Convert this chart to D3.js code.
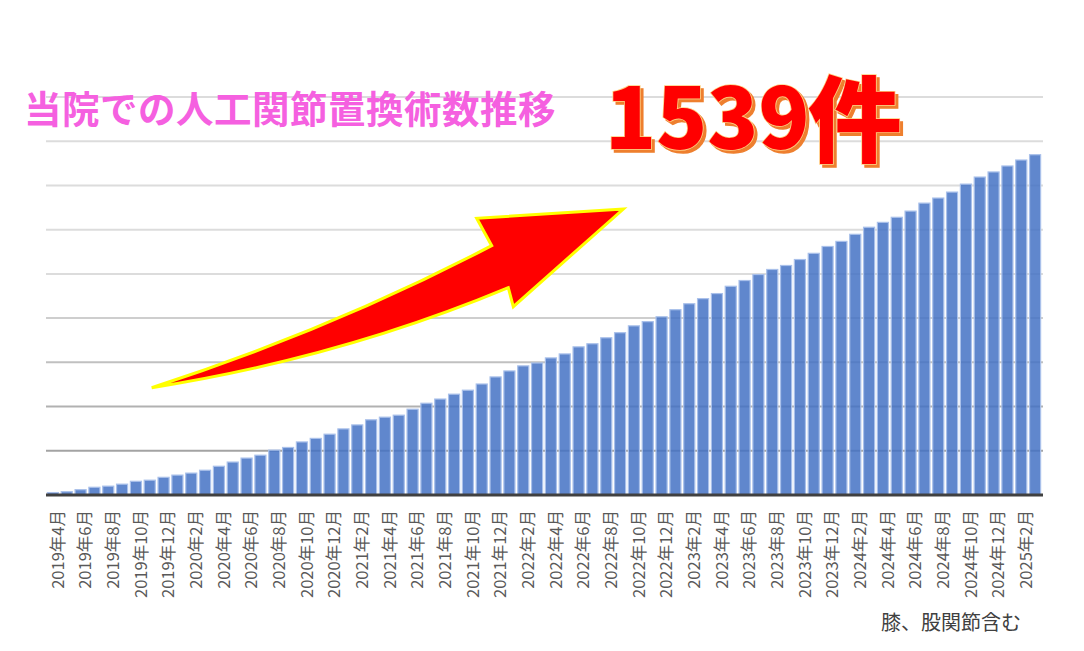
<!DOCTYPE html>
<html>
<head>
<meta charset="utf-8">
<script src="https://cdn.jsdelivr.net/npm/d3@7"></script>
<style>
  body { margin: 0; background: #fff; }
  text { font-family: "Noto Sans CJK JP", "Noto Sans", sans-serif; }
</style>
</head>
<body>
<div id="chart"></div>
<script>
// monthly cumulative count, 2019年4月 .. 2025年3月
const months = [
  '2019年4月','2019年5月','2019年6月','2019年7月','2019年8月','2019年9月','2019年10月','2019年11月','2019年12月','2020年1月','2020年2月','2020年3月',
  '2020年4月','2020年5月','2020年6月','2020年7月','2020年8月','2020年9月','2020年10月','2020年11月','2020年12月','2021年1月','2021年2月','2021年3月',
  '2021年4月','2021年5月','2021年6月','2021年7月','2021年8月','2021年9月','2021年10月','2021年11月','2021年12月','2022年1月','2022年2月','2022年3月',
  '2022年4月','2022年5月','2022年6月','2022年7月','2022年8月','2022年9月','2022年10月','2022年11月','2022年12月','2023年1月','2023年2月','2023年3月',
  '2023年4月','2023年5月','2023年6月','2023年7月','2023年8月','2023年9月','2023年10月','2023年11月','2023年12月','2024年1月','2024年2月','2024年3月',
  '2024年4月','2024年5月','2024年6月','2024年7月','2024年8月','2024年9月','2024年10月','2024年11月','2024年12月','2025年1月','2025年2月','2025年3月'
];
const counts = [
  11, 15, 24, 35, 40, 49, 62, 67, 80, 90, 99, 112,
  130, 149, 167, 180, 203, 215, 240, 256, 275, 299, 317, 340,
  352, 361, 388, 415, 434, 456, 474, 502, 534, 561, 584, 597,
  620, 638, 670, 684, 711, 734, 765, 784, 806, 838, 865, 888,
  911, 944, 970, 997, 1020, 1038, 1065, 1093, 1124, 1147, 1179, 1211,
  1233, 1256, 1284, 1320, 1343, 1370, 1406, 1438, 1461, 1488, 1515, 1539
];
const tickLabels = [
  '2019年4月','2019年6月','2019年8月','2019年10月','2019年12月','2020年2月','2020年4月','2020年6月','2020年8月','2020年10月','2020年12月','2021年2月',
  '2021年4月','2021年6月','2021年8月','2021年10月','2021年12月','2022年2月','2022年4月','2022年6月','2022年8月','2022年10月','2022年12月','2023年2月',
  '2023年4月','2023年6月','2023年8月','2023年10月','2023年12月','2024年2月','2024年4月','2024年6月','2024年8月','2024年10月','2024年12月','2025年2月'
];
const gridValues = [200, 400, 600, 800, 1000, 1200, 1400, 1600, 1800];

const title = '当院での人工関節置換術数推移';
const totalLabel = '1539';
const note = '膝、股関節含む';

const width = 1084;
const height = 651;

const svg = d3.select('#chart')
  .append('svg')
  .attr('width', width)
  .attr('height', height);

// orange drop shadow for the big number
const shadow = svg.append('defs').append('filter')
  .attr('id', 'orangeShadow')
  .attr('x', '-10%').attr('y', '-10%')
  .attr('width', '120%').attr('height', '130%');
shadow.append('feOffset').attr('in', 'SourceAlpha').attr('dx', 3).attr('dy', 3).attr('result', 'off');
shadow.append('feFlood').attr('flood-color', '#ee7f2e');
shadow.append('feComposite').attr('in2', 'off').attr('operator', 'in').attr('result', 'sh');
const merge = shadow.append('feMerge');
merge.append('feMergeNode').attr('in', 'sh');
merge.append('feMergeNode').attr('in', 'SourceGraphic');

const x = d3.scaleBand()
  .domain(months)
  .range([46, 1042])
  .paddingInner(0.2)
  .paddingOuter(0.1);

const y = d3.scaleLinear()
  .domain([0, 1800])
  .range([495, 97]);

// gridlines get lighter toward the top
const gridColor = d3.scaleLinear()
  .domain([200, 1000])
  .range(['#a3a3a3', '#dcdcdc'])
  .clamp(true);

svg.append('g')
  .selectAll('line')
  .data(gridValues)
  .join('line')
  .attr('x1', 46)
  .attr('x2', 1043)
  .attr('y1', d => y(d))
  .attr('y2', d => y(d))
  .attr('stroke', d => gridColor(d))
  .attr('stroke-width', 2);

// bars
svg.append('g')
  .selectAll('rect')
  .data(counts)
  .join('rect')
  .attr('x', (d, i) => x(months[i]))
  .attr('y', d => y(d))
  .attr('width', x.bandwidth())
  .attr('height', d => y(0) - y(d))
  .attr('fill', '#4472c4')
  .attr('fill-opacity', 0.85)
  .attr('stroke', '#a9c0ea')
  .attr('stroke-width', 1.2);

// baseline
svg.append('line')
  .attr('x1', 46)
  .attr('x2', 1043)
  .attr('y1', y(0))
  .attr('y2', y(0))
  .attr('stroke', '#404040')
  .attr('stroke-width', 3);

// x axis, labels every 2 months
const xAxis = svg.append('g')
  .attr('transform', `translate(0,${y(0)})`)
  .call(d3.axisBottom(x).tickValues(tickLabels).tickSize(0));

xAxis.select('.domain').remove();
xAxis.selectAll('text')
  .attr('transform', 'rotate(-90)')
  .attr('x', -15)
  .attr('y', 5)
  .attr('dy', '0.35em')
  .attr('text-anchor', 'end')
  .attr('fill', '#595959')
  .style('font-size', '16.5px')
  .style('font-family', '"Noto Sans CJK JP", sans-serif');

// big decorative arrow
svg.append('path')
  .attr('d', 'M151.7,387.7 Q330,330 491.7,245.7 L476.7,218.3 L623.3,209 L513.3,306.7 L508.3,287.7 Q340,358 151.7,387.7 Z')
  .attr('fill', '#ff0000')
  .attr('stroke', '#ffff00')
  .attr('stroke-width', 3)
  .attr('stroke-linejoin', 'miter');

// title
svg.append('text')
  .attr('x', 24)
  .attr('y', 123)
  .attr('fill', '#f560e0')
  .attr('font-weight', 'bold')
  .attr('letter-spacing', 0.5)
  .style('font-size', '37.5px')
  .text(title);

// total
const total = svg.append('text')
  .attr('x', 605)
  .attr('y', 149)
  .attr('fill', '#ff0000')
  .attr('font-weight', 900)
  .attr('stroke', '#ffcf80')
  .attr('stroke-width', 1.5)
  .attr('paint-order', 'stroke')
  .attr('filter', 'url(#orangeShadow)');
total.append('tspan').style('font-size', '84px').text(totalLabel);
total.append('tspan').style('font-size', '94px').attr('dx', -2).attr('dy', 6).text('件');

// footnote
svg.append('text')
  .attr('x', 881)
  .attr('y', 630)
  .attr('fill', '#404040')
  .style('font-size', '20px')
  .text(note);
</script>
</body>
</html>
